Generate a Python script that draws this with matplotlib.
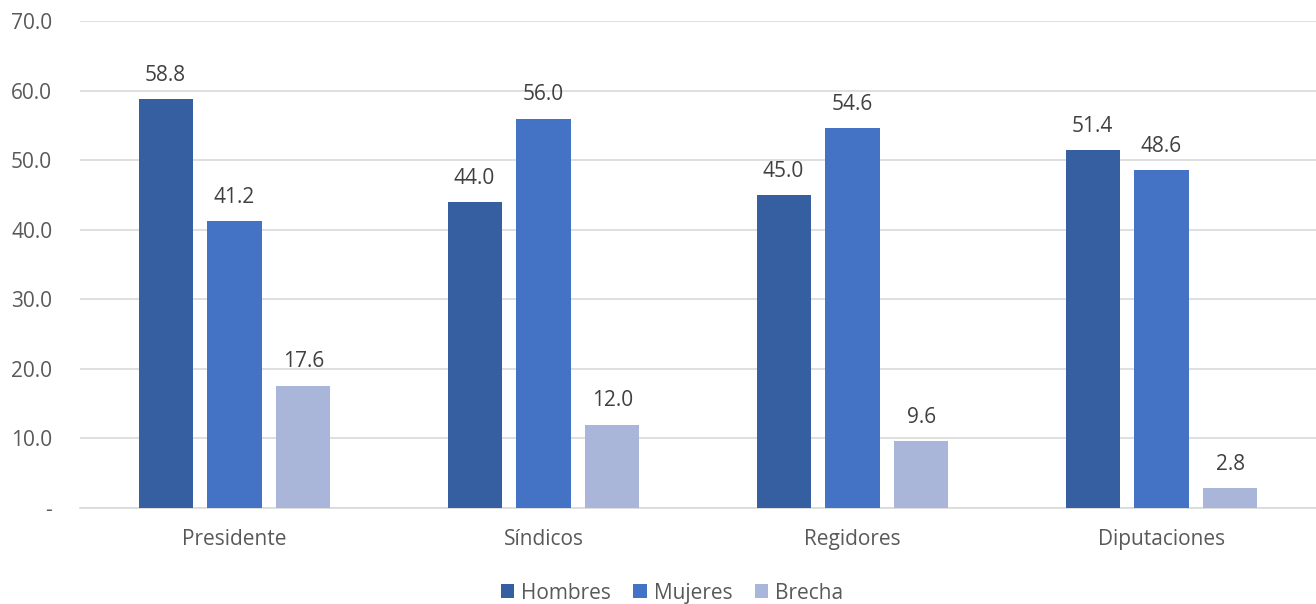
import numpy as np
import matplotlib
matplotlib.use("Agg")
import matplotlib.pyplot as plt
from matplotlib.ticker import FuncFormatter

categories = ["Presidente", "Síndicos", "Regidores", "Diputaciones"]
hombres = [58.8, 44.0, 45.0, 51.4]
mujeres = [41.2, 56.0, 54.6, 48.6]
brecha = [17.6, 12.0, 9.6, 2.8]

series = [("Hombres", hombres, "#365FA1"),
          ("Mujeres", mujeres, "#4472C4"),
          ("Brecha", brecha, "#A9B6DA")]

plt.rcParams["font.family"] = ["Open Sans", "DejaVu Sans"]
TXT = "#595959"
FS = 15

fig = plt.figure(figsize=(13.16, 6.04), dpi=100)
ax = fig.add_axes([0.0608, 0.159, 0.9392, 0.806])

x = np.arange(len(categories))
step = 0.223
width = 0.175
for i, (name, vals, color) in enumerate(series):
    pos = x + (i - 1) * step
    bars = ax.bar(pos, vals, width=width, color=color, label=name, zorder=3)
    for b, v in zip(bars, vals):
        ax.text(b.get_x() + b.get_width() / 2, v + 1.9, f"{v:.1f}",
                ha="center", va="bottom", fontsize=FS, color="#404040")

ax.set_xlim(-0.5, 3.5)
ax.set_ylim(0, 70)
ax.set_yticks(np.arange(0, 71, 10))
ax.yaxis.set_major_formatter(FuncFormatter(lambda v, p: "-" if v == 0 else f"{v:.1f}"))
ax.set_xticks(x)
ax.set_xticklabels(categories)
ax.grid(axis="y", color="#D9D9D9", linewidth=1.2, zorder=0)
for s in ["top", "right", "left"]:
    ax.spines[s].set_visible(False)
ax.spines["bottom"].set_color("#D9D9D9")
ax.spines["bottom"].set_linewidth(1.2)
ax.tick_params(axis="both", length=0, labelsize=FS, colors=TXT)
ax.tick_params(axis="x", pad=15)
ax.tick_params(axis="y", pad=20)

ax.legend(loc="upper center", bbox_to_anchor=(0.479, -0.115), ncol=3, frameon=False,
          fontsize=FS, handlelength=0.65, handleheight=0.65, handletextpad=0.35,
          columnspacing=1.05, labelcolor=TXT)

fig.savefig("out.png", dpi=100)
